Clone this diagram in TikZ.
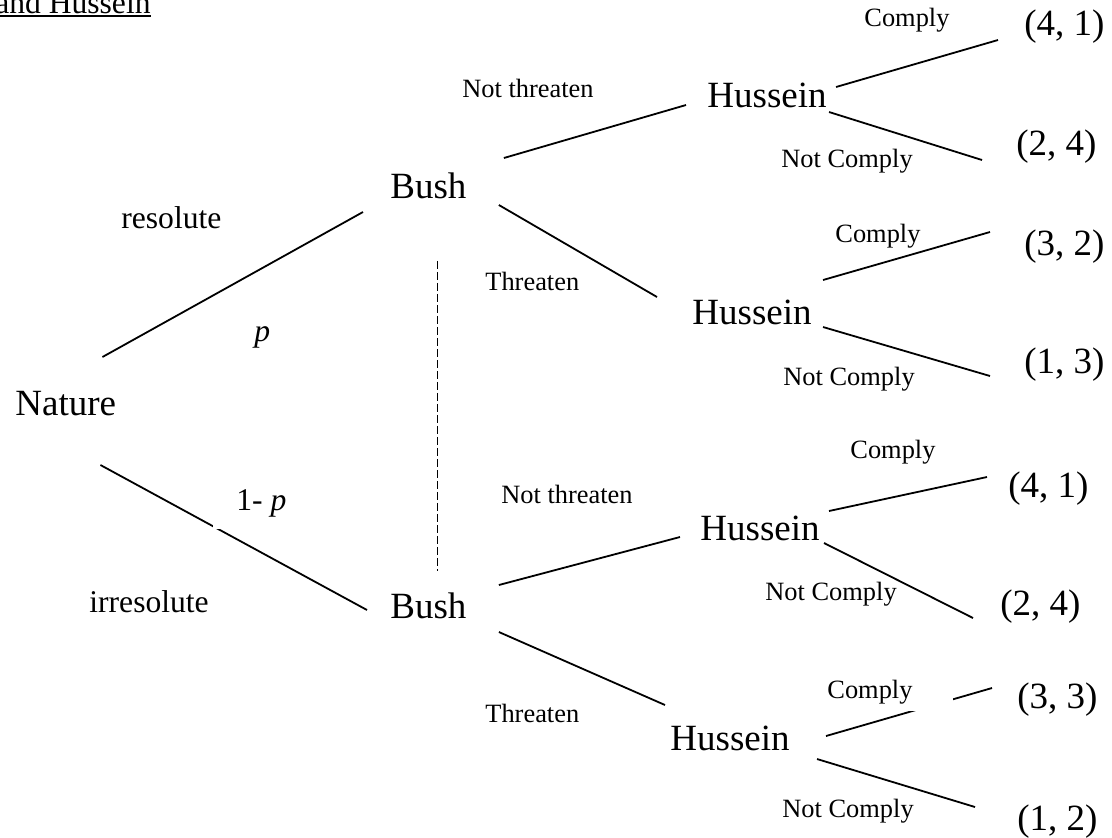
\documentclass[tikz,border=0pt]{standalone}
\usepackage{fontspec}
\setmainfont{Liberation Serif}
\usetikzlibrary{calc}

\tikzset{
  player/.style={anchor=base west, inner sep=0pt, font=\fontsize{18.5}{22}\selectfont},
  payoff/.style={anchor=base west, inner sep=0pt, font=\fontsize{18.5}{22}\selectfont},
  move/.style={anchor=base west, inner sep=0pt, font=\fontsize{13.2}{16}\selectfont},
  chance/.style={anchor=base west, inner sep=0pt, font=\fontsize{15.8}{19}\selectfont},
  branch/.style={line width=0.9pt},
}

\begin{document}
\begin{tikzpicture}[x=0.5pt,y=-0.5pt]
	\useasboundingbox (0,0) rectangle (1112,837);
	
	% title, cut off at the page edge
	\node[chance,anchor=base east] (ttl) at (151,13) {and Hussein};
	\draw[line width=1pt] ([yshift=-1.5pt]ttl.base west) -- ([yshift=-1.5pt]ttl.base east);
	
	% players
	\node[player] (nat) at (15,415) {Nature};
	\node[player] (bush1) at (390,198) {Bush};
	\node[player] (bush2) at (390,618) {Bush};
	\node[player] (hus1) at (707,107) {Hussein};
	\node[player] (hus2) at (692,324) {Hussein};
	\node[player] (hus3) at (700,540) {Hussein};
	\node[player] (hus4) at (670,750) {Hussein};
	
	% payoffs
	\node[payoff] (pay1) at (1024,35) {(4, 1)};
	\node[payoff] (pay2) at (1016,155) {(2, 4)};
	\node[payoff] (pay3) at (1024,255) {(3, 2)};
	\node[payoff] (pay4) at (1024,373) {(1, 3)};
	\node[payoff] (pay5) at (1008,497) {(4, 1)};
	\node[payoff] (pay6) at (1000,615) {(2, 4)};
	\node[payoff] (pay7) at (1017,708) {(3, 3)};
	\node[payoff] (pay8) at (1017,830) {(1, 2)};
	
	% branches
	\draw[branch] ([shift={(-14,-58)}]nat.base east) -- ([shift={(-27,14)}]bush1.base west);
	\draw[branch] ([shift={(-16,50)}]nat.base east) -- ([shift={(-23,-8)}]bush2.base west);
	\draw[branch] ([shift={(37,-40)}]bush1.base east) -- ([shift={(-21,-2)}]hus1.base west);
	\draw[branch] ([shift={(32,7)}]bush1.base east) -- ([shift={(-35,-27)}]hus2.base west);
	\draw[branch] ([shift={(32,-33)}]bush2.base east) -- ([shift={(-20,-3)}]hus3.base west);
	\draw[branch] ([shift={(32,14)}]bush2.base east) -- ([shift={(-5,-45)}]hus4.base west);
	\draw[branch] ([shift={(9,-20)}]hus1.base east) -- ([shift={(-26,5)}]pay1.base west);
	\draw[branch] ([shift={(2,5)}]hus1.base east) -- ([shift={(-34,5)}]pay2.base west);
	\draw[branch] ([shift={(11,-44)}]hus2.base east) -- ([shift={(-34,-23)}]pay3.base west);
	\draw[branch] ([shift={(11,3)}]hus2.base east) -- ([shift={(-34,3)}]pay4.base west);
	\draw[branch] ([shift={(9,-29)}]hus3.base east) -- ([shift={(-21,-20)}]pay5.base west);
	\draw[branch] ([shift={(4,3)}]hus3.base east) -- ([shift={(-27,3)}]pay6.base west);
	\draw[branch] ([shift={(36,-14)}]hus4.base east) -- ([shift={(-25,-20)}]pay7.base west);
	\draw[branch] ([shift={(27,9)}]hus4.base east) -- ([shift={(-42,-23)}]pay8.base west);
	
	% information set
	\draw[branch,dash pattern=on 4pt off 1.5pt] ([shift={(9,62)}]bush1.south) -- ([shift={(9,-21)}]bush2.north);
	
	% labels
	\node[chance] (res) at (121,228) {resolute};
	\node[chance] (prob) at (254,341) {\textit{p}};
	\node[chance,fill=white,inner xsep=11.5pt,inner ysep=6pt] (onep) at (213,510) {1- \textit{p}};
	\node[chance] (irr) at (89,612) {irresolute};
	
	\node[move] (nt1) at (462,97) {Not threaten};
	\node[move] (th1) at (485,290) {Threaten};
	\node[move] (nt2) at (501,503) {Not threaten};
	\node[move] (th2) at (485,722) {Threaten};
	
	\node[move] (c1) at (864,26) {Comply};
	\node[move] (nc1) at (781,167) {Not Comply};
	\node[move] (c2) at (835,242) {Comply};
	\node[move] (nc2) at (783,385) {Not Comply};
	\node[move] (c3) at (850,458) {Comply};
	\node[move] (nc3) at (765,600) {Not Comply};
	\node[move,fill=white,inner xsep=20.5pt,inner ysep=3.6pt] (c4) at (786,698) {Comply};
	\node[move] (nc4) at (782,817) {Not Comply};
	
\end{tikzpicture}
\end{document}
